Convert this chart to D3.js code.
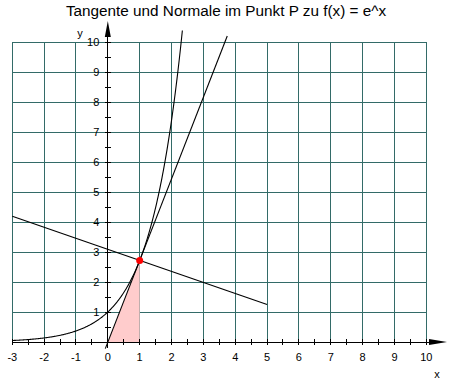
<!DOCTYPE html>
<html>
<head>
<meta charset="utf-8">
<script src="https://cdn.jsdelivr.net/npm/d3@7"></script>
<style>
  body { margin: 0; background: #fff; }
  svg { display: block; font-family: "Liberation Sans", Arial, sans-serif; }
</style>
</head>
<body>
<script>
// Tangente und Normale an e^x im Punkt P(1|e)
const title = "Tangente und Normale im Punkt P zu f(x) = e^x";
const xTicks = [-3, -2, -1, 0, 1, 2, 3, 4, 5, 6, 7, 8, 9, 10];
const yTicks = [1, 2, 3, 4, 5, 6, 7, 8, 9, 10];
const pointP = [1, Math.E];
const tangentLine = [[-0.08, -0.22], [3.75, 10.2]];
const normalLine = [[-3, 4.19], [5, 1.25]];
const triangle = [[0, 0], [1, 0], [1, Math.E]];
const curveRange = [-3, 2.34];

const width = 451, height = 381;
const gridColor = "#336b68";

const x = d3.scaleLinear().domain([-3, 10]).range([12.3, 426.3]);
const y = d3.scaleLinear().domain([0, 10]).range([342, 42]);

const svg = d3.select("body").append("svg")
    .attr("width", width)
    .attr("height", height);

svg.append("text")
    .attr("x", 226)
    .attr("y", 16)
    .attr("text-anchor", "middle")
    .style("font-size", "15.3px")
    .text(title);

// gitter
const grid = svg.append("g")
    .attr("stroke", gridColor)
    .attr("stroke-width", 1)
    .attr("shape-rendering", "crispEdges");

grid.selectAll("line.v")
    .data(xTicks)
    .join("line")
    .attr("class", "v")
    .attr("x1", d => x(d)).attr("x2", d => x(d))
    .attr("y1", y(10)).attr("y2", y(0));

grid.selectAll("line.h")
    .data(yTicks)
    .join("line")
    .attr("class", "h")
    .attr("x1", x(-3)).attr("x2", x(10))
    .attr("y1", d => y(d)).attr("y2", d => y(d));

// dreieck
svg.append("path")
    .attr("d", d3.line().x(d => x(d[0])).y(d => y(d[1]))(triangle) + "Z")
    .attr("fill", "#ffcccc");

// achsen
const axes = svg.append("g")
    .attr("stroke", "#000")
    .attr("stroke-width", 1)
    .attr("shape-rendering", "crispEdges");

axes.append("line")
    .attr("x1", x(-3)).attr("x2", 432)
    .attr("y1", y(0)).attr("y2", y(0));
axes.append("line")
    .attr("x1", x(0)).attr("x2", x(0))
    .attr("y1", y(0) + 6).attr("y2", 34);

svg.append("path")
    .attr("d", `M429,${y(0) - 3}L447,${y(0)}L429,${y(0) + 3}Z`)
    .attr("fill", "#000");
svg.append("path")
    .attr("d", `M${x(0) - 3},37L${x(0)},21L${x(0) + 3},37Z`)
    .attr("fill", "#000");

const xMinor = d3.range(-3, 10.01, 0.5);
axes.selectAll("line.xt")
    .data(xMinor)
    .join("line")
    .attr("class", "xt")
    .attr("x1", d => x(d)).attr("x2", d => x(d))
    .attr("y1", y(0) - 3)
    .attr("y2", y(0) + 3);

const yMinor = d3.range(0.5, 10.01, 0.5);
axes.selectAll("line.yt")
    .data(yMinor)
    .join("line")
    .attr("class", "yt")
    .attr("y1", d => y(d)).attr("y2", d => y(d))
    .attr("x1", x(0) - 3)
    .attr("x2", x(0) + 3);

svg.append("g")
    .style("font-size", "11px")
    .attr("text-anchor", "middle")
    .selectAll("text")
    .data(xTicks)
    .join("text")
    .attr("x", d => x(d))
    .attr("y", y(0) + 19)
    .text(d => d);

svg.append("g")
    .style("font-size", "11px")
    .attr("text-anchor", "end")
    .selectAll("text")
    .data(yTicks)
    .join("text")
    .attr("x", x(0) - 8.5)
    .attr("y", d => y(d) + 4)
    .text(d => d);

svg.append("text").attr("x", 437).attr("y", 378)
    .attr("text-anchor", "middle").style("font-size", "11px").text("x");
svg.append("text").attr("x", 80).attr("y", 37)
    .attr("text-anchor", "middle").style("font-size", "11px").text("y");

// kurven
const line = d3.line().x(d => x(d[0])).y(d => y(d[1]));
const curvePts = d3.range(curveRange[0], curveRange[1], 0.02)
    .concat([curveRange[1]])
    .map(t => [t, Math.exp(t)]);

svg.append("path").attr("d", line(curvePts))
    .attr("fill", "none").attr("stroke", "#000").attr("stroke-width", 1.1);
svg.append("path").attr("d", line(tangentLine))
    .attr("fill", "none").attr("stroke", "#000").attr("stroke-width", 1.1);
svg.append("path").attr("d", line(normalLine))
    .attr("fill", "none").attr("stroke", "#000").attr("stroke-width", 1.1);

svg.append("circle")
    .attr("cx", x(pointP[0]))
    .attr("cy", y(pointP[1]))
    .attr("r", 3.5)
    .attr("fill", "#ff0000");
</script>
</body>
</html>
